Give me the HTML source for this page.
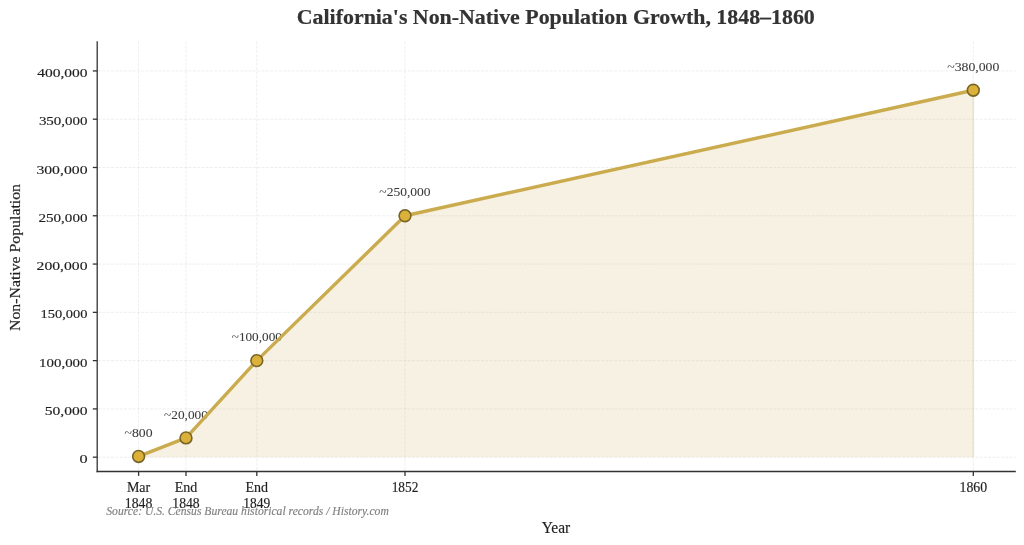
<!DOCTYPE html><html><head><meta charset="utf-8"><style>
html,body{margin:0;padding:0;background:#fff;width:1024px;height:545px;overflow:hidden}
svg{display:block;will-change:transform}
text{font-family:"Liberation Serif", serif}
</style></head><body>
<svg width="1024" height="545" viewBox="0 0 1024 545">
<rect width="1024" height="545" fill="#fff"/>

<line x1="98.2" x2="1015.8" y1="457.20" y2="457.20" stroke="#c4c4c4" stroke-width="0.75" stroke-dasharray="3,1.3" opacity="0.38"/>
<line x1="98.2" x2="1015.8" y1="408.91" y2="408.91" stroke="#c4c4c4" stroke-width="0.75" stroke-dasharray="3,1.3" opacity="0.38"/>
<line x1="98.2" x2="1015.8" y1="360.63" y2="360.63" stroke="#c4c4c4" stroke-width="0.75" stroke-dasharray="3,1.3" opacity="0.38"/>
<line x1="98.2" x2="1015.8" y1="312.35" y2="312.35" stroke="#c4c4c4" stroke-width="0.75" stroke-dasharray="3,1.3" opacity="0.38"/>
<line x1="98.2" x2="1015.8" y1="264.06" y2="264.06" stroke="#c4c4c4" stroke-width="0.75" stroke-dasharray="3,1.3" opacity="0.38"/>
<line x1="98.2" x2="1015.8" y1="215.77" y2="215.77" stroke="#c4c4c4" stroke-width="0.75" stroke-dasharray="3,1.3" opacity="0.38"/>
<line x1="98.2" x2="1015.8" y1="167.49" y2="167.49" stroke="#c4c4c4" stroke-width="0.75" stroke-dasharray="3,1.3" opacity="0.38"/>
<line x1="98.2" x2="1015.8" y1="119.20" y2="119.20" stroke="#c4c4c4" stroke-width="0.75" stroke-dasharray="3,1.3" opacity="0.38"/>
<line x1="98.2" x2="1015.8" y1="70.92" y2="70.92" stroke="#c4c4c4" stroke-width="0.75" stroke-dasharray="3,1.3" opacity="0.38"/>
<line x1="138.6" x2="138.6" y1="41.3" y2="470.5" stroke="#c4c4c4" stroke-width="0.75" stroke-dasharray="3,1.3" opacity="0.38"/>
<line x1="186.0" x2="186.0" y1="41.3" y2="470.5" stroke="#c4c4c4" stroke-width="0.75" stroke-dasharray="3,1.3" opacity="0.38"/>
<line x1="256.8" x2="256.8" y1="41.3" y2="470.5" stroke="#c4c4c4" stroke-width="0.75" stroke-dasharray="3,1.3" opacity="0.38"/>
<line x1="405.0" x2="405.0" y1="41.3" y2="470.5" stroke="#c4c4c4" stroke-width="0.75" stroke-dasharray="3,1.3" opacity="0.38"/>
<line x1="973.3" x2="973.3" y1="41.3" y2="470.5" stroke="#c4c4c4" stroke-width="0.75" stroke-dasharray="3,1.3" opacity="0.38"/>
<polygon points="138.60,457.20 138.60,456.43 186.00,437.89 256.80,360.63 405.00,215.77 973.30,90.23 973.30,457.20" fill="#D7B973" fill-opacity="0.2"/>
<line x1="973.3" x2="973.3" y1="90.23" y2="457.20" stroke="#D5D2AE" stroke-opacity="0.45" stroke-width="1.6"/>
<line x1="97.2" x2="97.2" y1="41.3" y2="472.15" stroke="#333" stroke-width="1.3"/>
<line x1="96.55" x2="1015.8" y1="471.5" y2="471.5" stroke="#333" stroke-width="1.3"/>
<line x1="92.8" x2="97.2" y1="457.20" y2="457.20" stroke="#333" stroke-width="1.3"/>
<line x1="92.8" x2="97.2" y1="408.91" y2="408.91" stroke="#333" stroke-width="1.3"/>
<line x1="92.8" x2="97.2" y1="360.63" y2="360.63" stroke="#333" stroke-width="1.3"/>
<line x1="92.8" x2="97.2" y1="312.35" y2="312.35" stroke="#333" stroke-width="1.3"/>
<line x1="92.8" x2="97.2" y1="264.06" y2="264.06" stroke="#333" stroke-width="1.3"/>
<line x1="92.8" x2="97.2" y1="215.77" y2="215.77" stroke="#333" stroke-width="1.3"/>
<line x1="92.8" x2="97.2" y1="167.49" y2="167.49" stroke="#333" stroke-width="1.3"/>
<line x1="92.8" x2="97.2" y1="119.20" y2="119.20" stroke="#333" stroke-width="1.3"/>
<line x1="92.8" x2="97.2" y1="70.92" y2="70.92" stroke="#333" stroke-width="1.3"/>
<line x1="138.6" x2="138.6" y1="471.5" y2="475.9" stroke="#333" stroke-width="1.3"/>
<line x1="186.0" x2="186.0" y1="471.5" y2="475.9" stroke="#333" stroke-width="1.3"/>
<line x1="256.8" x2="256.8" y1="471.5" y2="475.9" stroke="#333" stroke-width="1.3"/>
<line x1="405.0" x2="405.0" y1="471.5" y2="475.9" stroke="#333" stroke-width="1.3"/>
<line x1="973.3" x2="973.3" y1="471.5" y2="475.9" stroke="#333" stroke-width="1.3"/>
<text x="87.5" y="463.30" text-anchor="end" font-size="13" fill="#1f1f1f" stroke="#1f1f1f" stroke-width="0.16" textLength="8.1" lengthAdjust="spacingAndGlyphs">0</text>
<text x="87.5" y="415.01" text-anchor="end" font-size="13" fill="#1f1f1f" stroke="#1f1f1f" stroke-width="0.16" textLength="42.8" lengthAdjust="spacingAndGlyphs">50,000</text>
<text x="87.5" y="366.73" text-anchor="end" font-size="13" fill="#1f1f1f" stroke="#1f1f1f" stroke-width="0.16" textLength="48.4" lengthAdjust="spacingAndGlyphs">100,000</text>
<text x="87.5" y="318.45" text-anchor="end" font-size="13" fill="#1f1f1f" stroke="#1f1f1f" stroke-width="0.16" textLength="46.9" lengthAdjust="spacingAndGlyphs">150,000</text>
<text x="87.5" y="270.16" text-anchor="end" font-size="13" fill="#1f1f1f" stroke="#1f1f1f" stroke-width="0.16" textLength="50.9" lengthAdjust="spacingAndGlyphs">200,000</text>
<text x="87.5" y="221.87" text-anchor="end" font-size="13" fill="#1f1f1f" stroke="#1f1f1f" stroke-width="0.16" textLength="49.1" lengthAdjust="spacingAndGlyphs">250,000</text>
<text x="87.5" y="173.59" text-anchor="end" font-size="13" fill="#1f1f1f" stroke="#1f1f1f" stroke-width="0.16" textLength="51.1" lengthAdjust="spacingAndGlyphs">300,000</text>
<text x="87.5" y="125.30" text-anchor="end" font-size="13" fill="#1f1f1f" stroke="#1f1f1f" stroke-width="0.16" textLength="48.6" lengthAdjust="spacingAndGlyphs">350,000</text>
<text x="87.5" y="77.02" text-anchor="end" font-size="13" fill="#1f1f1f" stroke="#1f1f1f" stroke-width="0.16" textLength="50.3" lengthAdjust="spacingAndGlyphs">400,000</text>
<text x="138.6" y="491.6" text-anchor="middle" font-size="14" fill="#1f1f1f" stroke="#1f1f1f" stroke-width="0.16" textLength="23.3" lengthAdjust="spacingAndGlyphs">Mar</text>
<text x="138.6" y="507.8" text-anchor="middle" font-size="14" fill="#1f1f1f" stroke="#1f1f1f" stroke-width="0.16" textLength="27.6" lengthAdjust="spacingAndGlyphs">1848</text>
<text x="186.0" y="491.6" text-anchor="middle" font-size="14" fill="#1f1f1f" stroke="#1f1f1f" stroke-width="0.16" textLength="22.6" lengthAdjust="spacingAndGlyphs">End</text>
<text x="186.0" y="507.8" text-anchor="middle" font-size="14" fill="#1f1f1f" stroke="#1f1f1f" stroke-width="0.16" textLength="27.4" lengthAdjust="spacingAndGlyphs">1848</text>
<text x="256.8" y="491.6" text-anchor="middle" font-size="14" fill="#1f1f1f" stroke="#1f1f1f" stroke-width="0.16" textLength="22.6" lengthAdjust="spacingAndGlyphs">End</text>
<text x="256.8" y="507.8" text-anchor="middle" font-size="14" fill="#1f1f1f" stroke="#1f1f1f" stroke-width="0.16" textLength="27.0" lengthAdjust="spacingAndGlyphs">1849</text>
<text x="405.0" y="492" text-anchor="middle" font-size="14" fill="#1f1f1f" stroke="#1f1f1f" stroke-width="0.16" textLength="26.7" lengthAdjust="spacingAndGlyphs">1852</text>
<text x="973.3" y="492" text-anchor="middle" font-size="14" fill="#1f1f1f" stroke="#1f1f1f" stroke-width="0.16" textLength="27.6" lengthAdjust="spacingAndGlyphs">1860</text>
<text x="138.6" y="437.13" text-anchor="middle" font-size="12" fill="#3a3a3a" stroke="#3a3a3a" stroke-width="0.05" textLength="28.0" lengthAdjust="spacingAndGlyphs">~800</text>
<text x="186.0" y="418.59" text-anchor="middle" font-size="12" fill="#3a3a3a" stroke="#3a3a3a" stroke-width="0.05" textLength="43.8" lengthAdjust="spacingAndGlyphs">~20,000</text>
<text x="256.8" y="341.33" text-anchor="middle" font-size="12" fill="#3a3a3a" stroke="#3a3a3a" stroke-width="0.05" textLength="50.1" lengthAdjust="spacingAndGlyphs">~100,000</text>
<text x="405.0" y="196.47" text-anchor="middle" font-size="12" fill="#3a3a3a" stroke="#3a3a3a" stroke-width="0.05" textLength="51.3" lengthAdjust="spacingAndGlyphs">~250,000</text>
<text x="973.3" y="70.93" text-anchor="middle" font-size="12" fill="#3a3a3a" stroke="#3a3a3a" stroke-width="0.05" textLength="52.1" lengthAdjust="spacingAndGlyphs">~380,000</text>
<polyline points="138.60,456.43 186.00,437.89 256.80,360.63 405.00,215.77 973.30,90.23" fill="none" stroke="#CAAB4E" stroke-width="3.4" stroke-linejoin="round" stroke-linecap="round"/>
<circle cx="138.6" cy="456.43" r="5.9" fill="#DCB13A" stroke="#776426" stroke-width="1.6"/>
<circle cx="186.0" cy="437.89" r="5.9" fill="#DCB13A" stroke="#776426" stroke-width="1.6"/>
<circle cx="256.8" cy="360.63" r="5.9" fill="#DCB13A" stroke="#776426" stroke-width="1.6"/>
<circle cx="405.0" cy="215.77" r="5.9" fill="#DCB13A" stroke="#776426" stroke-width="1.6"/>
<circle cx="973.3" cy="90.23" r="5.9" fill="#DCB13A" stroke="#776426" stroke-width="1.6"/>
<text x="555.8" y="24.1" text-anchor="middle" font-size="21" font-weight="bold" fill="#333" stroke="#333" stroke-width="0.2" textLength="518" lengthAdjust="spacingAndGlyphs">California's Non-Native Population Growth, 1848–1860</text>
<text transform="translate(19.6,257.5) rotate(-90)" x="0" y="0" text-anchor="middle" font-size="15.5" fill="#1f1f1f" stroke="#1f1f1f" stroke-width="0.16" textLength="147" lengthAdjust="spacingAndGlyphs">Non-Native Population</text>
<text x="556" y="532.9" text-anchor="middle" font-size="16.5" fill="#1f1f1f" stroke="#1f1f1f" stroke-width="0.16" textLength="28.5" lengthAdjust="spacingAndGlyphs">Year</text>
<text x="106.3" y="514.8" font-size="11.5" font-style="italic" fill="#808080" stroke="#808080" stroke-width="0.15" textLength="282.5" lengthAdjust="spacingAndGlyphs">Source: U.S. Census Bureau historical records / History.com</text>
</svg></body></html>
